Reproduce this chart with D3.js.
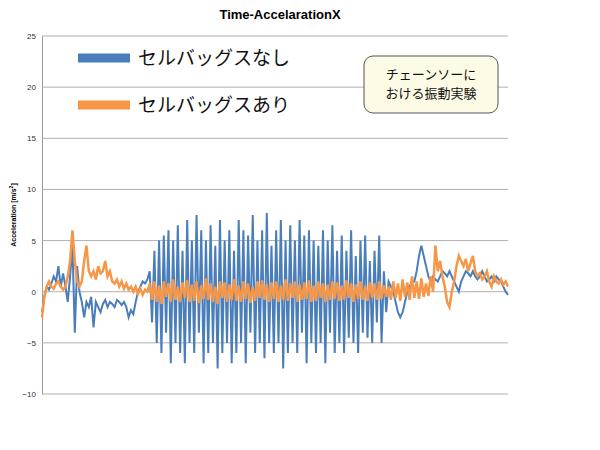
<!DOCTYPE html><html><head><meta charset="utf-8">
<script src="https://cdn.jsdelivr.net/npm/d3@7"></script>
<style>body{margin:0;background:#fff}</style></head><body>
<svg id="c" width="600" height="450"></svg>
<script>
const yTicks=[-10,-5,0,5,10,15,20,25];
const seriesNames=["セルバッグスなし","セルバッグスあり"];
const blue=[-2,-0.5,0.5,0.2,0.8,1.5,1,2.5,0.5,1.8,0.5,-1,1.5,4.5,-4,2.5,0,-1,-2.5,-1,-1.5,-0.5,-3.5,-1,-1.5,-2,-1.2,-0.8,-1.5,-1,-1.2,-1.5,-0.8,-1,-1.3,-1,-1.5,-2.5,-1.8,-2.2,-1,0,0.5,1,0.8,1.2,
2,-3,4,-5,5,-6,5.5,-4,6,-7,5,-5,6.5,-6,4,-7,7,-5,5,-6,7.5,-4,6,-7,5,-6,6.5,-5,4.5,-7.5,7,-6,5,-5,6,-7,4,-6,7,-5,6,-7,5.5,-4,7.5,-6,5,-5,6,-6.5,7.7,-5,4.5,-6,6,-5,7,-7.5,5,-6,6.5,-5,5,-6,7,-4,5.5,-7,6,-5,5,-6,4.5,-5,6,-7,5,-4,6.5,-6,4,-5,5.5,-6,4,-4.5,6,-5,3.5,-6,5,-4,5.5,-4.5,3,-5,4,-3,5.5,-5,2,-2,
1,0.5,0,-1,-2,-2.5,-2,-1,0,0.5,1,1,2,3.5,4.5,3.5,2.5,1.5,1,1.5,1.2,1,1.5,2,1.8,1.5,2,1.5,1,0.5,0,1,1.5,2,1.8,1.5,2,1.5,1.2,1.5,2,1.5,1,1.2,1.5,1,1.5,1.2,1,0.5,0,-0.3];
const orange=[-2.5,-0.5,0.5,1,0.5,0.3,0.8,1,0.5,0.2,0.5,1.5,3,6,3,1,0.5,1,3,4.5,2,1.5,2,1.2,2.5,1.8,2,3,1.5,2,1,0.8,1.2,0.5,1,0.3,0.8,0.2,0.5,0,0.5,-0.2,0.3,-0.3,0.2,0,
0.8,-0.8,1,-1,0.6,-1.2,1,-0.5,0.8,-1,1.2,-0.8,0.5,-1,0.9,-0.6,1.1,-1,0.7,-0.9,1,-1.1,0.6,-0.7,1.3,-0.8,0.8,-1,0.5,-1.2,1,-0.6,0.9,-1,0.7,-0.8,1.2,-0.9,0.6,-1,1,-0.7,0.8,-1.1,0.5,-0.9,1,-0.6,1.1,-0.8,0.7,-1,0.9,-0.7,1,-1,0.6,-0.8,1.2,-0.9,0.8,-0.6,1,-1,0.7,-0.8,0.9,-0.7,1.1,-1,0.6,-0.9,1,-0.6,0.8,-1,0.7,-0.8,1,-0.7,0.9,-0.9,0.6,-0.8,1.1,-0.6,0.8,-1,0.7,-0.7,1,-0.8,0.6,-0.9,0.9,-0.6,0.8,-0.8,1,-0.7,0.6,-0.5,
0.5,-0.8,1,-0.6,0.8,-0.9,1.2,-0.5,0.9,-0.8,1.5,-0.6,1,-0.7,1.3,-0.5,0.8,-0.4,1.5,0,4.5,2,3,1.5,0.5,-1,-1.5,0,1,2.5,3.5,3,2.5,3.2,2,2.8,3.5,2,1.5,1.8,1.2,1.5,2,1,0.5,1.5,1,0.8,1.2,0.7,1,0.5];
const colors=["#4a7ebb","#f79646"];
const svg=d3.select("#c");
const L=42,R=508,T=36,B=394;
const y=d3.scaleLinear().domain([-10,25]).range([B,T]);
const xb=d3.scaleLinear().domain([0,blue.length-1]).range([L,R]);
const xo=d3.scaleLinear().domain([0,orange.length-1]).range([L,R]);
const ax=svg.append("g").attr("transform",`translate(${L},0)`).call(d3.axisLeft(y).tickValues(yTicks).tickSize(0).tickPadding(6));
ax.select(".domain").attr("stroke","#999");
ax.selectAll("text").attr("font-family","Liberation Sans, Arial").attr("font-size",8).attr("fill","#333");
svg.append("g").selectAll("line").data(yTicks).join("line").attr("x1",L).attr("x2",R).attr("y1",d=>y(d)).attr("y2",d=>y(d)).attr("stroke","#b0b0b0").attr("stroke-width",1);
const ln=x=>d3.line().x((d,i)=>x(i)).y(d=>y(d));
svg.append("path").datum(blue).attr("d",ln(xb)).attr("fill","none").attr("stroke",colors[0]).attr("stroke-width",2);
svg.append("path").datum(orange).attr("d",ln(xo)).attr("fill","none").attr("stroke",colors[1]).attr("stroke-width",2.5);
svg.append("text").attr("x",280).attr("y",19).attr("text-anchor","middle").attr("font-family","Liberation Sans, Arial").attr("font-weight","bold").attr("font-size",13).text("Time-AccelarationX");
svg.append("text").attr("transform","translate(16,215) rotate(-90)").attr("text-anchor","middle").attr("font-family","Liberation Sans, Arial").attr("font-weight","bold").attr("font-size",7).html('Acceleration [m/s<tspan dy="-3" font-size="5">2</tspan><tspan dy="3">]</tspan>');
seriesNames.forEach((n,i)=>{const yy=[58,105][i];
svg.append("line").attr("x1",78).attr("x2",130).attr("y1",yy).attr("y2",yy).attr("stroke",colors[i]).attr("stroke-width",9);
svg.append("text").attr("x",138).attr("y",yy+7).attr("font-family","Noto Sans CJK JP").attr("font-size",19).attr("fill","#111").text(n);});
svg.append("rect").attr("x",364).attr("y",56).attr("width",134).attr("height",57).attr("rx",9).attr("fill","#fdfbe6").attr("stroke","#555").attr("stroke-width",1);
["チェーンソーに","おける振動実験"].forEach((t,i)=>svg.append("text").attr("x",431).attr("y",79+i*19).attr("text-anchor","middle").attr("font-family","Noto Sans CJK JP").attr("font-size",13).attr("fill","#111").text(t));
</script></body></html>
